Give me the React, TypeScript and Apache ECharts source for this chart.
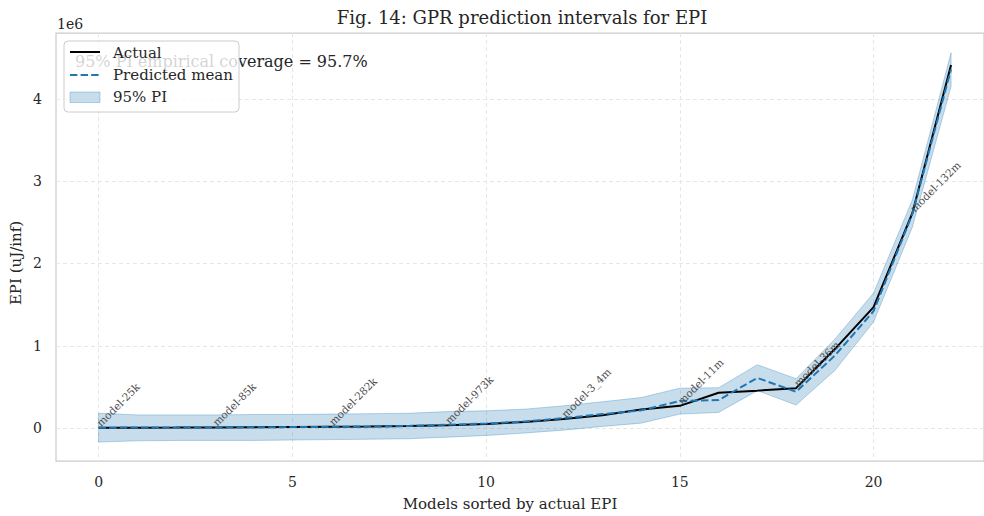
import React, { useEffect, useRef } from "react";
import * as echarts from "echarts";

// Model positions after sorting by measured EPI
const modelPos = [0, 1, 2, 3, 4, 5, 6, 7, 8, 9, 10, 11, 12, 13, 14, 15, 16, 17, 18, 19, 20, 21, 22];

// EPI values in units of 1e6 uJ/inf
const actualEpi = [
  0.003, 0.005, 0.006, 0.008, 0.01, 0.012, 0.015, 0.019, 0.025, 0.035, 0.05, 0.075,
  0.11, 0.155, 0.225, 0.27, 0.43, 0.455, 0.485, 0.96, 1.47, 2.61, 4.41,
];
const predictedEpi = [
  0.005, 0.006, 0.007, 0.008, 0.01, 0.012, 0.015, 0.02, 0.025, 0.04, 0.055, 0.08,
  0.12, 0.17, 0.215, 0.33, 0.34, 0.61, 0.44, 0.88, 1.42, 2.6, 4.36,
];
const piLower = [
  -0.17, -0.155, -0.15, -0.15, -0.15, -0.145, -0.14, -0.135, -0.13, -0.11, -0.09, -0.06,
  -0.025, 0.02, 0.06, 0.17, 0.19, 0.455, 0.28, 0.7, 1.29, 2.44, 4.15,
];
const piUpper = [
  0.18, 0.16, 0.16, 0.16, 0.165, 0.165, 0.17, 0.175, 0.18, 0.2, 0.21, 0.23,
  0.27, 0.32, 0.37, 0.485, 0.49, 0.77, 0.6, 1.08, 1.64, 2.77, 4.56,
];

// Every third model gets a name tag
const taggedPos = [0, 3, 6, 9, 12, 15, 18, 21];
const taggedNames = [
  "model-25k", "model-85k", "model-282k", "model-973k",
  "model-3_4m", "model-11m", "model-36m", "model-132m",
];

const xTicks = [0, 5, 10, 15, 20];
const yTicks = [0, 1, 2, 3, 4];
const coverageLabel = "95% PI empirical coverage = 95.7%";

const SERIF = "'DejaVu Serif', serif";
const TEXT = "#262626";
const BLUE = "#1f77b4";
const BAND = "rgba(31,119,180,0.25)";
const BAND_EDGE = "rgba(31,119,180,0.3)";

export default function App() {
  const ref = useRef<HTMLDivElement>(null);

  useEffect(() => {
    if (!ref.current) return;
    const chart = echarts.init(ref.current, undefined, { renderer: "svg" });

    const pts = (ys: number[]) => modelPos.map((x, i) => [x, ys[i]]);

    chart.setOption({
      animation: false,
      backgroundColor: "#ffffff",
      grid: {
        left: 56,
        top: 33,
        right: 0,
        bottom: 55,
        show: true,
        borderColor: "#cccccc",
        borderWidth: 1.25,
        backgroundColor: "transparent",
      },
      xAxis: {
        type: "value",
        min: -1.1,
        max: 22.85,
        axisLine: { show: false },
        axisTick: { show: false, customValues: xTicks },
        axisLabel: {
          customValues: xTicks,
          fontFamily: SERIF,
          fontSize: 14,
          color: TEXT,
          margin: 14,
        },
        splitLine: { show: true, lineStyle: { color: "#e6e6e6", type: [4, 3], width: 1 } },
      },
      yAxis: {
        type: "value",
        min: -0.4,
        max: 4.8,
        axisLine: { show: false },
        axisTick: { show: false, customValues: yTicks },
        axisLabel: {
          customValues: yTicks,
          fontFamily: SERIF,
          fontSize: 14,
          color: TEXT,
          margin: 14,
        },
        splitLine: { show: true, lineStyle: { color: "#e6e6e6", type: [4, 3], width: 1 } },
      },
      series: [
        {
          // 95% prediction band: one polygon, upper edge forward, lower edge back
          name: "95% PI",
          type: "custom",
          z: 1,
          data: modelPos.map((x, i) => [x, piLower[i], piUpper[i]]),
          renderItem: (params: any, api: any) => {
            if (params.dataIndex !== 0) return { type: "group", children: [] };
            const upper = modelPos.map((x, i) => api.coord([x, piUpper[i]]));
            const lower = modelPos.map((x, i) => api.coord([x, piLower[i]])).reverse();
            return {
              type: "polygon",
              shape: { points: upper.concat(lower) },
              style: { fill: BAND, stroke: BAND_EDGE, lineWidth: 1 },
            };
          },
        },
        {
          name: "Actual",
          type: "line",
          data: pts(actualEpi),
          symbol: "none",
          lineStyle: { color: "#000000", width: 2 },
          z: 2,
        },
        {
          name: "Predicted mean",
          type: "line",
          data: pts(predictedEpi),
          symbol: "none",
          lineStyle: { color: BLUE, width: 2, type: [7.4, 3.2] },
          z: 3,
        },
        {
          name: "tags",
          type: "custom",
          z: 4,
          data: taggedPos.map((i) => [modelPos[i], actualEpi[i]]),
          renderItem: (params: any, api: any) => {
            const p = api.coord([api.value(0), api.value(1)]);
            return {
              type: "text",
              x: p[0] + 3.5,
              y: p[1] + 0.5,
              rotation: Math.PI / 4,
              style: {
                text: taggedNames[params.dataIndex],
                fill: "#4d4d4d",
                fontFamily: SERIF,
                fontSize: 10.5,
                align: "left",
                verticalAlign: "bottom",
              },
            };
          },
        },
      ],
      graphic: [
        {
          type: "text",
          x: 522,
          y: 17,
          style: {
            text: "Fig. 14: GPR prediction intervals for EPI",
            fontFamily: SERIF,
            fontSize: 18,
            fill: TEXT,
            align: "center",
            verticalAlign: "middle",
          },
        },
        {
          type: "text",
          x: 57,
          y: 24,
          style: { text: "1e6", fontFamily: SERIF, fontSize: 14, fill: TEXT, verticalAlign: "middle" },
        },
        {
          type: "text",
          x: 510,
          y: 504,
          style: {
            text: "Models sorted by actual EPI",
            fontFamily: SERIF,
            fontSize: 15,
            fill: TEXT,
            align: "center",
            verticalAlign: "middle",
          },
        },
        {
          type: "text",
          x: 16,
          y: 263,
          rotation: Math.PI / 2,
          style: {
            text: "EPI (uJ/inf)",
            fontFamily: SERIF,
            fontSize: 15,
            fill: TEXT,
            align: "center",
            verticalAlign: "middle",
          },
        },
        {
          type: "text",
          x: 75,
          y: 61,
          z: 10,
          style: { text: coverageLabel, fontFamily: SERIF, fontSize: 16, fill: TEXT, verticalAlign: "middle" },
        },
        {
          type: "group",
          z: 20,
          children: [
            {
              type: "rect",
              shape: { x: 64, y: 41, width: 175, height: 71, r: 4 },
              style: { fill: "rgba(255,255,255,0.8)", stroke: "#cccccc", lineWidth: 1 },
              z: 20,
            },
            {
              type: "line",
              shape: { x1: 70, y1: 52, x2: 100, y2: 52 },
              style: { stroke: "#000000", lineWidth: 2 },
              z: 21,
            },
            {
              type: "line",
              shape: { x1: 70, y1: 75, x2: 100, y2: 75 },
              style: { stroke: BLUE, lineWidth: 2, lineDash: [7.4, 3.2] },
              z: 21,
            },
            {
              type: "rect",
              shape: { x: 70, y: 92, width: 30, height: 10.5 },
              style: { fill: BAND, stroke: BAND_EDGE, lineWidth: 1 },
              z: 21,
            },
            {
              type: "text",
              x: 113,
              y: 53,
              z: 21,
              style: { text: "Actual", fontFamily: SERIF, fontSize: 15, fill: TEXT, verticalAlign: "middle" },
            },
            {
              type: "text",
              x: 113,
              y: 75,
              z: 21,
              style: { text: "Predicted mean", fontFamily: SERIF, fontSize: 15, fill: TEXT, verticalAlign: "middle" },
            },
            {
              type: "text",
              x: 113,
              y: 97,
              z: 21,
              style: { text: "95% PI", fontFamily: SERIF, fontSize: 15, fill: TEXT, verticalAlign: "middle" },
            },
          ],
        },
      ],
    });

    return () => chart.dispose();
  }, []);

  return <div ref={ref} style={{ width: 984, height: 516, position: "absolute", left: 0, top: 0 }} />;
}
